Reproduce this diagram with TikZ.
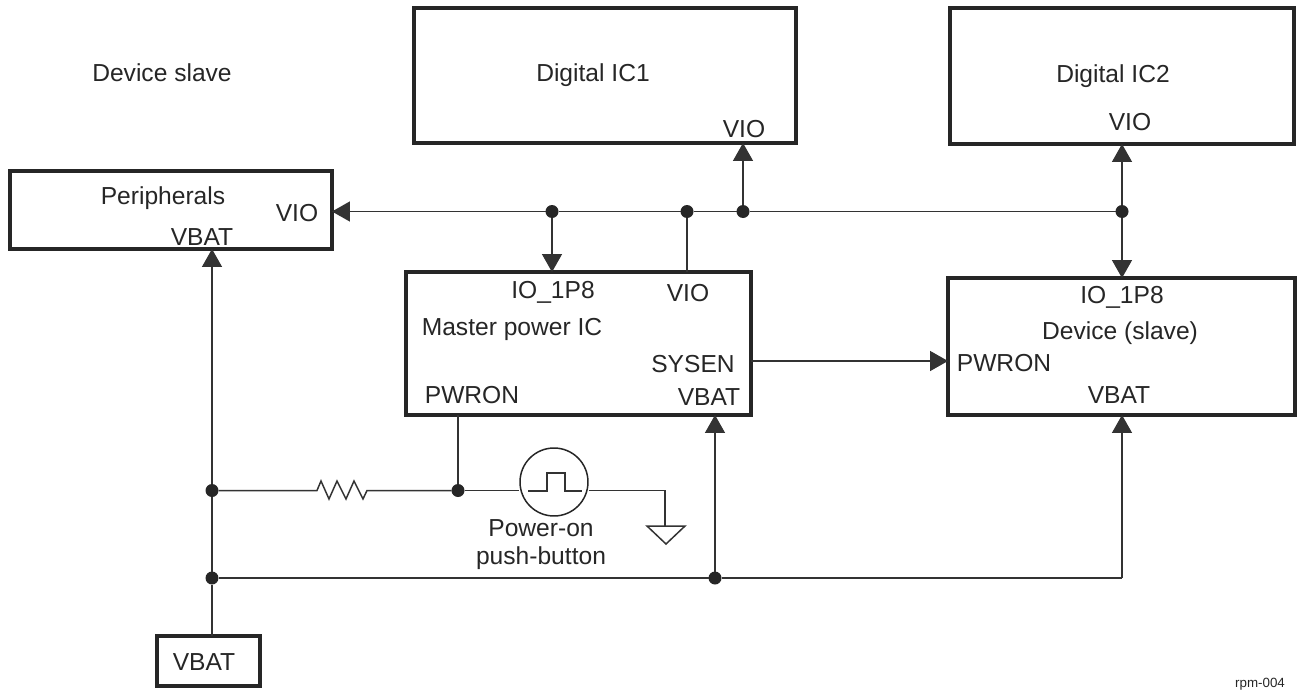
\documentclass[tikz,border=0pt]{standalone}
\usepackage{fontspec}
\setmainfont{Liberation Sans}
\usetikzlibrary{arrows.meta}

\begin{document}
\begin{tikzpicture}[x=0.02cm, y=-0.02cm, every node/.style={font=\fontsize{14}{16}\selectfont, inner sep=0pt, text=black!85}, box/.style={draw=black!85, line width=2.3pt, outer sep=0pt}, dot/.style={circle, fill=black!85, minimum size=0.26cm, outer sep=0pt}, wire/.style={draw=black!80, line width=0.85pt}, feed/.style={wire, -{Triangle[length=0.36cm, width=0.4cm]}}]
	\useasboundingbox (0,0) rectangle (1299,690);
	\node[box, minimum width=7.64cm, minimum height=2.7cm] (IC1) at (605,75.5) {};
	\node[box, minimum width=6.9cm, minimum height=2.72cm] (IC2) at (1122,76) {};
	\node[box, minimum width=6.44cm, minimum height=1.56cm] (PERI) at (171,210) {};
	\node[box, minimum width=6.9cm, minimum height=2.86cm] (MAST) at (578.5,343.5) {};
	\node[box, minimum width=6.94cm, minimum height=2.74cm] (DEV) at (1121.5,346.5) {};
	\node[box, minimum width=2.06cm, minimum height=1cm] (BATT) at (208.5,661) {};
	\node (BATTT) at (204,662) {VBAT};
	\node (TITLE) at (162,73) {Device slave};
	\node (IC1T) at (593,75) {Digital IC1};
	\node (IC1V) at (744,129) {VIO};
	\node (IC2T) at (1113,76) {Digital IC2};
	\node (IC2V) at (1130,122) {VIO};
	\node (PERIT) at (163,198) {Peripherals};
	\node (PERIV) at (297,213) {VIO};
	\node (PERIB) at (202,237) {VBAT};
	\node (MASTI) at (553,292) {IO\_1P8};
	\node (MASTV) at (688,293) {VIO};
	\node (MASTT) at (512,329) {Master power IC};
	\node (MASTS) at (693,364) {SYSEN};
	\node (MASTP) at (472,395) {PWRON};
	\node (MASTB) at (709,397) {VBAT};
	\node (DEVI) at (1122,297) {IO\_1P8};
	\node (DEVT) at (1120,333) {Device (slave)};
	\node (DEVP) at (1004,363) {PWRON};
	\node (DEVB) at (1119,395) {VBAT};
	\node[align=center] (BTNT) at (541,545) {Power-on\\push-button};
	\node[font=\fontsize{7.6}{9}\selectfont] (REV) at (1260,684) {rpm-004};
	\node[dot] (D1) at (552,211.5) {};
	\node[dot] (D2) at (687,211.5) {};
	\node[dot] (D3) at (743,211.5) {};
	\node[dot] (D4) at (1122,211.5) {};
	\node[dot] (D5) at (212,490.5) {};
	\node[dot] (D6) at (458,490.5) {};
	\node[dot] (D7) at (212,578) {};
	\node[dot] (D8) at (715,578) {};
	\node[draw=black!85, line width=0.85pt, circle, minimum size=1.36cm] (BTN) at (554,482) {};
	\coordinate (R1) at (300,490.5);
	\coordinate (R2) at (383,490.5);
	\coordinate (G1) at (665,490.5);
	\coordinate (G2) at (665,526);
	\coordinate (K) at (1122,578);
	\draw[feed] (D4) -- (D3) -- (D2) -- (D1) -- (PERI.east |- D1);
	\draw[feed] (D1) -- (D1 |- MAST.north);
	\draw[wire] (D2) -- (D2 |- MAST.north);
	\draw[feed] (D3) -- (D3 |- IC1.south);
	\draw[feed] (D4) -- (D4 |- IC2.south);
	\draw[feed] (D4) -- (D4 |- DEV.north);
	\draw[feed] (MAST.east |- 0,361) -- (DEV.west |- 0,361);
	\draw[feed] (D7 |- BATT.north) -- (D7) -- (D5) -- (D5 |- PERI.south);
	\draw[wire] (D5) -- (R1) -- (317,490.5) -- (321,481) -- (329,499) -- (337,481) -- (346,499) -- (354,481) -- (363,499) -- (367,490.5) -- (R2) -- (D6);
	\draw[wire] (D6) -- (D6 |- MAST.south);
	\draw[wire] (D6) -- (BTN.west |- D6);
	\draw[wire] (BTN.east |- G1) -- (G1) -- (G2);
	\draw[wire] (647,526) -- (685,526) -- (666,544) -- cycle;
	\draw[wire] (528,491) -- (547,491) -- (547,473) -- (565,473) -- (565,491) -- (582,491);
	\draw[wire] (D7) -- (D8) -- (K);
	\draw[feed] (K) -- (K |- DEV.south);
	\draw[feed] (D8) -- (D8 |- MAST.south);
	\end{tikzpicture}
\end{document}
